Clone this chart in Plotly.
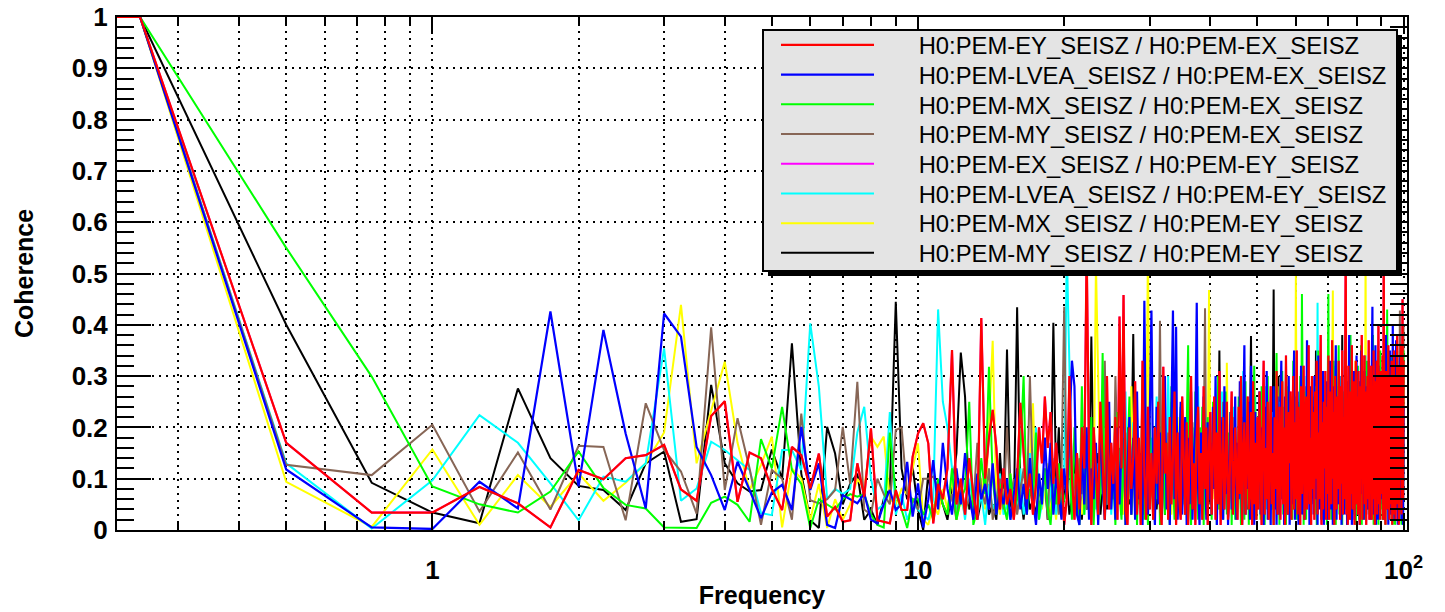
import plotly.graph_objects as go

# frequency bins of the coherence estimate: 0.25 Hz spacing up to 100 Hz.
# the DC bin is drawn at the left edge of the log axis (as ROOT does)
freq = [0.2241] + [0.25 * k for k in range(1, 401)]

# coherence values, one row = 20 bins (5 Hz)
ey_ex = [
    1.0, 1.0, .17, .034, .034, .084, .052, .005, .117, .099, .14, .146, .166, .079, .057, .222, .251, .055, .151, .14, .08,
    .039, .162, .146, .081, .149, .026, .045, .016, .019, .13, .065, .198, .019, .016, .013, .078, .039, .039, .143, .188,
    .208, .169, .013, .09, .06, .12, .351, .05, .1, .03, .14, .07, .02, .413, .1, .18, .234, .16, .04, .12,
    .05, .08, .02, .1, .248, .15, .06, .11, .03, .09, .2, .13, .26, .16, .23, .09, .17, .05, .12, .01,
    .06, .3, .1, .02, .15, .04, .2, .12, .55, .14, .01, .2, .1, .03, .25, .12, .02, .3, .04, .17,
    .09, .22, .02, .416, .12, .458, .04, .01, .2, .08, .14, .29, .03, .18, .01, .33, .11, .02, .24, .04,
    .15, .02, .2, .09, .25, .05, .01, .318, .11, .17, .02, .22, .05, .14, .27, .01, .19, .06, .02, .26,
    .12, .03, .21, .01, .16, .3, .04, .13, .01, .19, .24, .05, .15, .02, .28, .08, .2, .01, .17, .23,
    .03, .14, .26, .02, .19, .05, .31, .01, .15, .22, .04, .12, .25, .02, .06, .18, .27, .03, .09, .2,
    .13, .02, .24, .07, .3, .01, .14, .21, .03, .18, .26, .04, .07, .23, .01, .29, .05, .17, .02, .22,
    .04, .27, .14, .01, .2, .33, .03, .16, .06, .25, .02, .19, .28, .05, .15, .01, .22, .08, .31, .03,
    .18, .24, .02, .14, .29, .05, .2, .01, .34, .09, .03, .23, .13, .27, .02, .19, .3, .04, .21, .06,
    .35, .03, .24, .11, .01, .28, .07, .2, .32, .02, .16, .26, .04, .22, .36, .05, .18, .01, .3, .08,
    .23, .02, .27, .1, .33, .03, .19, .06, .29, .38, .01, .21, .04, .25, .12, .31, .02, .24, .07, .34,
    .02, .2, .27, .05, .37, .1, .23, .01, .3, .13, .04, .26, .08, .33, .2, .02, .28, .09, .35, .03,
    .22, .06, .3, .55, .03, .25, .01, .32, .12, .02, .27, .07, .36, .04, .23, .29, .01, .2, .33, .05,
    .26, .03, .31, .12, .01, .28, .15, .38, .02, .24, .09, .34, .05, .27, .01, .22, .3, .06, .37, .02,
    .25, .08, .32, .02, .27, .06, .35, .14, .01, .29, .1, .33, .03, .24, .4, .05, .28, .02, .31, .12,
    .07, .34, .02, .55, .16, .28, .01, .31, .09, .26, .04, .36, .13, .02, .3, .18, .05, .33, .01, .27,
    .12, .35, .03, .25, .02, .3, .14, .38, .05, .27, .01, .32, .1, .24, .36, .03, .29, .45, .06, .33,
]
lvea_ex = [
    1.0, 1.0, .118, .005, .002, .094, .042, .426, .085, .39, .188, .042, .422, .377, .162, .107, .039, .133, .078, .023, .073,
    .088, .039, .201, .078, .13, .01, .004, .068, .06, .052, .071, .02, .013, .05, .078, .039, .05, .133, .026, .091,
    .005, .06, .136, .04, .17, .08, .03, .12, .05, .15, .07, .02, .11, .06, .09, .04, .13, .03, .08, .05,
    .1, .02, .07, .12, .04, .09, .03, .14, .06, .01, .11, .05, .18, .08, .17, .03, .1, .07, .02, .12,
    .06, .19, .33, .28, .03, .01, .15, .05, .2, .02, .12, .06, .17, .01, .22, .09, .02, .14, .25, .04,
    .13, .02, .2, .05, .16, .31, .01, .12, .22, .03, .18, .02, .27, .06, .15, .01, .447, .1, .03, .21,
    .428, .08, .01, .24, .05, .19, .02, .16, .3, .04, .13, .01, .2, .428, .06, .396, .02, .17, .25, .03,
    .14, .22, .01, .18, .05, .27, .02, .15, .2, .443, .08, .01, .19, .04, .26, .1, .02, .21, .06, .17,
    .03, .24, .08, .3, .01, .18, .05, .22, .15, .02, .28, .07, .19, .01, .16, .23, .04, .2, .1, .26,
    .02, .17, .06, .29, .12, .01, .21, .36, .03, .18, .08, .25, .02, .32, .11, .2, .01, .23, .06, .19,
    .1, .27, .03, .2, .14, .01, .24, .06, .31, .02, .18, .1, .01, .22, .09, .28, .04, .17, .01, .26,
    .13, .03, .23, .33, .06, .19, .01, .26, .1, .21, .03, .3, .01, .18, .24, .05, .16, .35, .02, .2,
    .08, .27, .01, .22, .15, .32, .03, .12, .25, .02, .19, .07, .37, .1, .21, .01, .28, .05, .18, .24,
    .03, .3, .12, .06, .23, .01, .34, .15, .04, .26, .02, .2, .31, .01, .17, .24, .07, .29, .02, .22,
    .1, .33, .04, .25, .15, .01, .28, .09, .21, .36, .02, .19, .26, .05, .3, .12, .23, .01, .27, .08,
    .2, .03, .32, .13, .24, .01, .29, .1, .38, .04, .22, .14, .01, .27, .08, .31, .02, .25, .15, .34,
    .05, .23, .11, .29, .01, .2, .35, .07, .26, .14, .02, .31, .1, .24, .03, .28, .16, .04, .33, .12,
    .22, .02, .19, .3, .435, .08, .03, .25, .12, .36, .01, .21, .28, .02, .32, .1, .24, .05, .29, .14,
    .06, .27, .15, .33, .02, .24, .1, .38, .04, .22, .3, .01, .26, .13, .35, .03, .21, .28, .07, .4,
    .12, .25, .02, .32, .16, .37, .04, .27, .01, .3, .18, .06, .34, .13, .26, .02, .31, .15, .01, .24,
]
mx_ex = [
    1.0, 1.0, .55, .299, .085, .05, .034, .075, .153, .082, .049, .042, .005, .004, .004, .053, .065, .049, .016, .177, .12,
    .24, .117, .09, .004, .06, .05, .04, .06, .07, .065, .07, .03, .01, .005, .19, .07, .04, .004, .06, .06,
    .03, .05, .02, .1, .05, .03, .12, .02, .06, .08, .25, .01, .04, .14, .07, .318, .1, .03, .09, .05,
    .02, .11, .04, .06, .15, .3, .03, .08, .05, .19, .02, .07, .12, .04, .01, .09, .05, .13, .03, .06,
    .08, .14, .02, .2, .05, .01, .28, .03, .17, .04, .22, .01, .12, .03, .07, .345, .02, .19, .05, .15,
    .1, .01, .23, .07, .02, .18, .01, .14, .26, .03, .11, .2, .01, .16, .05, .3, .02, .13, .01, .21,
    .12, .02, .19, .06, .25, .01, .15, .22, .03, .17, .08, .01, .28, .1, .02, .2, .04, .16, .24, .05,
    .14, .03, .21, .36, .07, .01, .18, .05, .27, .12, .02, .2, .06, .24, .01, .17, .03, .22, .09, .19,
    .02, .25, .08, .18, .01, .3, .04, .16, .21, .02, .14, .27, .03, .19, .07, .23, .01, .15, .2, .02,
    .17, .04, .26, .09, .01, .22, .12, .02, .29, .06, .19, .01, .24, .1, .03, .2, .32, .05, .02, .18,
    .1, .23, .02, .28, .07, .18, .01, .21, .11, .3, .03, .17, .25, .04, .2, .01, .13, .27, .345, .05,
    .19, .01, .24, .08, .31, .03, .17, .22, .01, .28, .1, .2, .03, .26, .12, .02, .33, .06, .21, .11,
    .02, .25, .14, .05, .3, .09, .46, .22, .01, .27, .12, .02, .2, .34, .06, .24, .01, .19, .29, .08,
    .21, .03, .28, .11, .01, .23, .35, .06, .19, .26, .02, .31, .1, .22, .04, .08, .27, .01, .24, .46,
    .07, .2, .3, .02, .25, .12, .33, .04, .22, .01, .28, .1, .19, .36, .03, .24, .09, .3, .01, .21,
    .11, .27, .04, .34, .19, .01, .23, .29, .06, .2, .38, .02, .25, .1, .31, .03, .22, .14, .01, .26,
    .09, .32, .15, .02, .27, .12, .36, .01, .23, .06, .29, .19, .02, .25, .1, .33, .04, .21, .28, .03,
    .24, .1, .3, .05, .2, .38, .01, .26, .08, .22, .33, .03, .18, .28, .01, .23, .1, .35, .04, .19,
    .27, .02, .21, .32, .08, .25, .01, .3, .12, .43, .05, .2, .28, .02, .24, .03, .34, .1, .22, .01,
    .26, .09, .31, .01, .2, .28, .05, .35, .13, .24, .02, .3, .08, .21, .27, .01, .33, .15, .03, .35,
]
my_ex = [
    1.0, 1.0, .127, .107, .205, .036, .151, .04, .164, .162, .019, .247, .156, .114, .032, .395, .078, .218, .12, .01, .117,
    .1, .02, .227, .058, .052, .06, .078, .201, .09, .289, .04, .03, .1, .07, .05, .195, .2, .07, .06, .04,
    .1, .1, .104, .08, .05, .03, .07, .02, .09, .04, .06, .05, .17, .08, .05, .12, .02, .06, .1, .04,
    .2, .06, .1, .03, .08, .12, .05, .3, .09, .14, .04, .07, .11, .02, .16, .06, .09, .03, .12, .435,
    .08, .18, .05, .11, .03, .14, .07, .2, .04, .1, .06, .16, .09, .02, .13, .07, .33, .05, .11, .08,
    .06, .3, .15, .09, .04, .12, .19, .07, .11, .03, .16, .08, .22, .05, .1, .14, .06, .18, .09, .12,
    .07, .14, .05, .2, .1, .408, .08, .16, .04, .12, .19, .06, .25, .09, .13, .05, .17, .1, .03, .15,
    .11, .06, .18, .09, .14, .04, .21, .1, .07, .16, .12, .05, .2, .08, .15, .432, .06, .13, .1, .19,
    .05, .14, .09, .2, .11, .06, .17, .03, .13, .25, .08, .15, .1, .04, .18, .12, .07, .22, .09, .14,
    .1, .06, .19, .12, .04, .16, .09, .23, .07, .13, .2, .05, .15, .11, .28, .08, .17, .12, .06, .21,
    .09, .15, .05, .18, .11, .27, .07, .13, .2, .04, .16, .1, .23, .08, .14, .19, .06, .12, .17, .09,
    .13, .2, .07, .16, .1, .24, .05, .14, .31, .09, .18, .12, .06, .22, .11, .15, .08, .19, .26, .1,
    .12, .17, .06, .21, .14, .09, .25, .11, .04, .19, .13, .28, .08, .16, .1, .22, .05, .14, .18, .07,
    .15, .1, .23, .08, .19, .12, .3, .06, .16, .11, .2, .05, .14, .25, .09, .17, .12, .07, .21, .13,
    .08, .18, .11, .26, .06, .15, .2, .1, .13, .33, .07, .17, .12, .05, .22, .14, .09, .19, .11, .24,
    .1, .16, .06, .21, .13, .28, .09, .15, .04, .19, .12, .24, .08, .17, .11, .3, .06, .14, .2, .1,
    .15, .08, .23, .12, .18, .05, .26, .11, .16, .09, .21, .14, .34, .07, .13, .19, .1, .25, .06, .17,
    .12, .2, .09, .15, .28, .06, .17, .11, .24, .13, .08, .19, .1, .3, .14, .05, .22, .16, .09, .18,
    .11, .25, .07, .16, .2, .1, .38, .13, .06, .21, .15, .09, .27, .12, .18, .04, .23, .1, .16, .32,
    .08, .19, .13, .26, .1, .17, .06, .22, .14, .29, .11, .18, .428, .07, .24, .12, .2, .09, .15, .4,
]
# coherence is symmetric: EX/EY is identical to EY/EX and lies under the red curve
ex_ey = ey_ex
lvea_ey = [
    1.0, 1.0, .13, .003, .097, .224, .17, .091, .019, .104, .094, .13, .354, .057, .081, .172, .156, .136, .117, .033, .029,
    .156, .156, .117, .403, .279, .06, .08, .07, .08, .19, .24, .1, .04, .05, .23, .03, .07, .02, .05, .04,
    .03, .02, .06, .43, .25, .2, .12, .04, .08, .02, .1, .05, .03, .07, .01, .09, .04, .06, .11, .03,
    .05, .02, .08, .04, .12, .03, .06, .15, .09, .2, .02, .05, .1, .04, .07, .14, .03, .06, .08, .12,
    .55, .3, .1, .05, .14, .08, .2, .03, .11, .06, .17, .09, .04, .13, .07, .22, .1, .05, .16, .03,
    .12, .06, .19, .09, .04, .15, .27, .08, .13, .05, .21, .1, .07, .17, .03, .24, .11, .06, .14, .09,
    .18, .05, .12, .26, .08, .15, .04, .2, .1, .06, .3, .13, .07, .17, .09, .22, .05, .14, .11, .19,
    .06, .16, .1, .25, .08, .13, .04, .2, .11, .07, .28, .12, .05, .18, .09, .14, .21, .06, .1, .15,
    .08, .19, .12, .05, .23, .1, .16, .07, .27, .11, .04, .14, .2, .09, .13, .06, .17, .1, .24, .08,
    .15, .05, .11, .2, .08, .14, .31, .06, .12, .18, .09, .04, .16, .1, .22, .07, .13, .26, .05, .11,
    .17, .09, .13, .06, .21, .1, .15, .28, .04, .12, .19, .08, .14, .05, .23, .11, .07, .16, .1, .2,
    .06, .14, .25, .09, .12, .05, .18, .1, .33, .07, .13, .2, .04, .11, .16, .08, .27, .12, .06, .15,
    .1, .19, .07, .13, .24, .05, .11, .17, .08, .3, .12, .06, .15, .21, .09, .13, .04, .18, .11, .26,
    .07, .14, .1, .21, .12, .443, .06, .16, .09, .25, .13, .05, .19, .11, .3, .08, .15, .1, .22, .06,
    .13, .09, .18, .05, .24, .11, .15, .32, .07, .12, .2, .1, .06, .17, .28, .09, .14, .04, .21, .12,
    .08, .16, .11, .26, .06, .13, .2, .09, .35, .12, .05, .18, .1, .23, .14, .07, .3, .11, .16, .09,
    .19, .06, .13, .24, .1, .15, .08, .29, .12, .05, .2, .11, .16, .34, .07, .13, .22, .09, .17, .1,
    .05, .14, .27, .11, .18, .08, .13, .23, .06, .16, .31, .1, .19, .07, .12, .25, .09, .14, .2, .06,
    .11, .17, .08, .22, .13, .06, .28, .1, .15, .41, .12, .07, .19, .14, .24, .05, .16, .1, .3, .09,
    .14, .07, .2, .12, .26, .09, .15, .33, .06, .18, .11, .23, .08, .16, .29, .1, .13, .21, .07, .17,
]
mx_ey = [
    1.0, 1.0, .094, .006, .157, .01, .107, .045, .11, .057, .092, .13, .19, .439, .13, .23, .328, .17, .078, .127, .182,
    .005, .12, .1, .02, .09, .004, .06, .02, .05, .1, .08, .182, .162, .182, .06, .05, .08, .07, .12, .169,
    .02, .01, .05, .03, .08, .04, .1, .02, .06, .03, .07, .05, .09, .1, .04, .2, .369, .06, .03, .08,
    .04, .11, .02, .07, .05, .09, .03, .14, .247, .06, .1, .04, .08, .13, .03, .07, .02, .09, .05, .11,
    .06, .2, .1, .04, .15, .08, .03, .12, .18, .07, .14, .05, .52, .3, .09, .16, .04, .11, .2, .06,
    .1, .05, .14, .08, .22, .03, .12, .17, .06, .28, .09, .04, .15, .11, .07, .19, .05, .13, .55, .1,
    .08, .16, .04, .12, .2, .07, .1, .25, .05, .14, .09, .18, .03, .11, .15, .06, .22, .1, .08, .13,
    .05, .17, .11, .07, .24, .09, .14, .04, .19, .12, .06, .16, .1, .21, .08, .13, .03, .11, .468, .15,
    .09, .14, .06, .2, .11, .04, .16, .08, .13, .1, .18, .05, .326, .12, .07, .15, .09, .22, .06, .11,
    .13, .07, .17, .1, .05, .21, .12, .08, .15, .26, .06, .11, .19, .09, .14, .04, .18, .1, .23, .07,
    .12, .16, .06, .2, .1, .14, .08, .25, .11, .05, .17, .09, .13, .22, .07, .15, .1, .19, .04, .28,
    .11, .06, .18, .13, .09, .23, .07, .15, .1, .3, .05, .14, .19, .08, .12, .26, .06, .17, .1, .5,
    .09, .15, .12, .12, .07, .2, .11, .16, .05, .24, .1, .13, .08, .18, .29, .06, .14, .1, .22, .12,
    .08, .17, .12, .25, .06, .14, .1, .19, .31, .07, .13, .21, .09, .16, .11, .27, .05, .15, .2, .1,
    .13, .07, .18, .11, .24, .467, .09, .15, .2, .06, .12, .28, .1, .16, .08, .22, .13, .05, .19, .11,
    .16, .09, .23, .12, .06, .19, .3, .1, .14, .08, .26, .13, .18, .05, .21, .11, .15, .33, .08, .17,
    .1, .2, .07, .14, .27, .12, .18, .06, .24, .11, .16, .09, .13, .55, .08, .22, .15, .1, .29, .12,
    .18, .07, .13, .25, .1, .16, .09, .21, .12, .06, .3, .14, .19, .08, .23, .11, .15, .35, .07, .17,
    .12, .2, .09, .16, .26, .06, .14, .11, .22, .1, .18, .31, .08, .15, .12, .24, .07, .19, .13, .28,
    .09, .17, .12, .23, .07, .15, .36, .1, .2, .13, .08, .26, .14, .11, .19, .06, .22, .12, .16, .3,
]
my_ey = [
    1.0, 1.0, .40, .092, .034, .013, .276, .14, .086, .078, .039, .13, .153, .016, .021, .283, .13, .091, .075, .078, .157,
    .1, .364, .11, .019, .004, .201, .149, .05, .09, .11, .02, .04, .01, .06, .08, .445, .12, .06, .123, .04,
    .0, .111, .03, .07, .05, .02, .08, .15, .346, .26, .04, .07, .02, .06, .09, .03, .05, .02, .15, .04,
    .352, .05, .03, .434, .07, .02, .09, .04, .06, .03, .08, .05, .1, .02, .06, .404, .09, .2, .04, .07,
    .1, .03, .06, .14, .05, .09, .02, .12, .04, .07, .377, .1, .05, .15, .03, .08, .11, .04, .2, .06,
    .12, .04, .08, .16, .03, .1, .06, .2, .05, .13, .382, .09, .04, .11, .07, .15, .03, .18, .08, .05,
    .1, .06, .14, .04, .09, .2, .07, .12, .03, .16, .08, .05, .11, .22, .06, .13, .04, .1, .18, .07,
    .09, .15, .05, .12, .07, .24, .1, .04, .13, .08, .19, .06, .11, .03, .16, .09, .2, .07, .12, .05,
    .14, .08, .11, .06, .18, .1, .35, .07, .13, .04, .16, .09, .2, .06, .12, .1, .15, .05, .22, .08,
    .11, .06, .17, .09, .13, .05, .2, .1, .07, .15, .04, .12, .18, .378, .08, .14, .06, .1, .19, .09,
    .12, .07, .16, .1, .05, .21, .08, .14, .11, .06, .18, .09, .13, .04, .2, .469, .1, .07, .15, .12,
    .3, .08, .13, .06, .17, .1, .22, .07, .12, .15, .05, .19, .09, .14, .11, .25, .06, .1, .16, .08,
    .13, .07, .2, .11, .06, .16, .09, .14, .28, .1, .05, .18, .12, .08, .15, .22, .06, .11, .17, .09,
    .1, .15, .07, .35, .12, .18, .06, .13, .09, .21, .11, .05, .16, .1, .24, .08, .14, .12, .19, .07,
    .14, .09, .2, .06, .12, .17, .1, .26, .08, .15, .11, .05, .19, .13, .07, .22, .1, .16, .38, .09,
    .12, .18, .06, .14, .1, .23, .08, .16, .11, .05, .2, .13, .09, .27, .07, .15, .12, .19, .06, .1,
    .16, .08, .13, .21, .1, .05, .17, .12, .3, .09, .14, .07, .19, .11, .24, .06, .15, .1, .2, .08,
    .13, .19, .07, .15, .1, .25, .06, .12, .17, .09, .22, .11, .05, .16, .13, .28, .08, .14, .1, .2,
    .07, .16, .11, .24, .09, .13, .19, .06, .15, .1, .2, .33, .08, .12, .17, .05, .22, .11, .14, .09,
    .18, .1, .25, .07, .14, .11, .2, .06, .16, .12, .29, .08, .13, .21, .1, .15, .05, .19, .11, .14,
]

names = [
    "H0:PEM-EY_SEISZ / H0:PEM-EX_SEISZ",
    "H0:PEM-LVEA_SEISZ / H0:PEM-EX_SEISZ",
    "H0:PEM-MX_SEISZ / H0:PEM-EX_SEISZ",
    "H0:PEM-MY_SEISZ / H0:PEM-EX_SEISZ",
    "H0:PEM-EX_SEISZ / H0:PEM-EY_SEISZ",
    "H0:PEM-LVEA_SEISZ / H0:PEM-EY_SEISZ",
    "H0:PEM-MX_SEISZ / H0:PEM-EY_SEISZ",
    "H0:PEM-MY_SEISZ / H0:PEM-EY_SEISZ",
]
series = [ey_ex, lvea_ex, mx_ex, my_ex, ex_ey, lvea_ey, mx_ey, my_ey]
colors = ["#ff0000", "#0000ff", "#00ff00", "#876656",
          "#ff00ff", "#00ffff", "#ffff00", "#000000"]

# full-window figure (the page margin is removed in post_script below)
W, H = 1445, 612
L, R, T, B = 117, 38, 17, 82
PW, PH = W - L - R, H - T - B


def px(x):
    return (x - L) / PW


def py(y):
    return (H - B - y) / PH


# one legend per entry so the rows can sit on ROOT's spacing
legend_keys = ["legend"] + ["legend%d" % (i + 1) for i in range(1, 8)]
row0, row_step = 45, 29.7
pad = "\u00a0" * 6

fig = go.Figure()
# draw the last legend entry first so the red curve ends up on top
for i in reversed(range(len(series))):
    fig.add_trace(go.Scatter(
        x=freq, y=series[i], mode="lines", name=pad + names[i],
        line=dict(color=colors[i], width=2.2 if i in (0, 1) else 2),
        legend=legend_keys[i],
    ))

# legend box with its drop shadow
fig.add_shape(type="rect", xref="paper", yref="paper",
              x0=px(768), x1=px(1402), y0=py(276), y1=py(35),
              fillcolor="black", line_width=0, layer="above")
fig.add_shape(type="rect", xref="paper", yref="paper",
              x0=px(763), x1=px(1397), y0=py(271), y1=py(30),
              fillcolor="#e4e4e4", line=dict(color="black", width=2), layer="above")

legends = {}
for i, key in enumerate(legend_keys):
    legends[key] = dict(
        x=px(776), y=py(row0 + row_step * i), xanchor="left", yanchor="middle",
        bgcolor="rgba(0,0,0,0)", borderwidth=0,
        font=dict(family="Liberation Sans", size=23.8, color="black"),
        itemwidth=93,
    )

minor_x = [0.3, 0.4, 0.5, 0.6, 0.7, 0.8, 0.9, 2, 3, 4, 5, 6, 7, 8, 9,
           20, 30, 40, 50, 60, 70, 80, 90]
grid_dash = "2px,5px"
bold = dict(family="Liberation Sans", size=26, color="black", weight="bold")
title_font = dict(family="Liberation Sans", size=25, color="black")

fig.update_layout(
    width=W, height=H,
    margin=dict(l=L, r=R, t=T, b=B),
    paper_bgcolor="white", plot_bgcolor="white",
    showlegend=True,
    xaxis=dict(
        type="log", range=[-0.6495, 2.007], automargin=False,
        tickvals=[1, 10, 100], ticktext=["1", "10", "10<sup>2</sup>"],
        ticks="inside", ticklen=17, tickwidth=2, tickcolor="black",
        tickfont=bold, ticklabelstandoff=16, ticklabeloverflow="allow",
        showline=True, linecolor="black", linewidth=2, mirror="ticks",
        showgrid=True, gridcolor="black", gridwidth=1.5, griddash=grid_dash,
        minor=dict(tickvals=minor_x, ticks="inside", ticklen=9, tickwidth=2,
                   tickcolor="black", showgrid=True, gridcolor="black",
                   gridwidth=1.5, griddash=grid_dash),
        title=dict(text="<b>Frequency</b>", standoff=2, font=title_font),
        zeroline=False,
    ),
    yaxis=dict(
        range=[0, 1], dtick=0.1, tick0=0, automargin=False,
        ticks="inside", ticklen=34, tickwidth=2, tickcolor="black",
        tickfont=bold, ticklabelstandoff=2, ticklabeloverflow="allow",
        showline=True, linecolor="black", linewidth=2, mirror="ticks",
        showgrid=True, gridcolor="black", gridwidth=1.5, griddash=grid_dash,
        minor=dict(dtick=0.02, ticks="inside", ticklen=17, tickwidth=2,
                   tickcolor="black", showgrid=False),
        title=dict(text="<b>Coherence</b>", standoff=31, font=title_font),
        zeroline=False,
    ),
    **legends,
)

fig.write_html("out.html", config={"displayModeBar": False},
               post_script="document.body.style.margin = '0';")
